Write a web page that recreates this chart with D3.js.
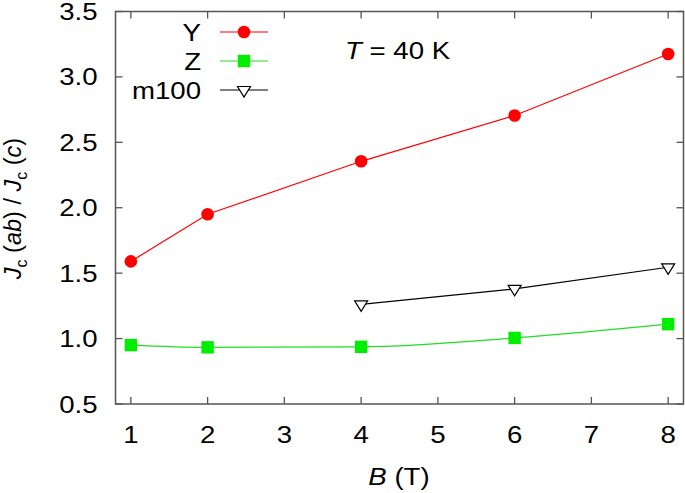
<!DOCTYPE html>
<html><head><meta charset="utf-8">
<script src="https://cdn.jsdelivr.net/npm/d3@7"></script>
<style>
html,body{margin:0;padding:0;background:#fff;}
text{font-family:"Liberation Sans",Arial,Helvetica,sans-serif;fill:#000;}
</style></head>
<body><svg id="c" width="685" height="493"></svg>
<script>
const xTicks = [1,2,3,4,5,6,7,8];
const yTicks = [0.5,1.0,1.5,2.0,2.5,3.0,3.5];
const bY = [1,2,4,6,8];
const valY = [1.59,1.95,2.355,2.705,3.175];
const bZ = [1,2,4,6,8];
const valZ = [0.95,0.933,0.937,1.005,1.11];
const bM = [4,6,8];
const valM = [1.262,1.38,1.545];
const legendLabels = ["Y","Z","m100"];

const svg = d3.select("#c");
const L=115.5,R=683.5,T=11.5,B=404;
const x = d3.scaleLinear().domain([0.8,8.2]).range([L,R]);
const y = d3.scaleLinear().domain([0.5,3.5]).range([B,T]);
const frameCol="#555";
const FS=24, SX=1.15;

function txt(px,py,anchor,size){
  return svg.append("text").attr("transform",`translate(${px},${py}) scale(${SX},1)`)
    .attr("text-anchor",anchor).attr("font-size",size||FS);
}

// ticks
const tl=7;
const g=svg.append("g").attr("stroke",frameCol).attr("stroke-width",1.3);
xTicks.forEach(v=>{
  g.append("line").attr("x1",x(v)).attr("x2",x(v)).attr("y1",B).attr("y2",B-tl);
  g.append("line").attr("x1",x(v)).attr("x2",x(v)).attr("y1",T).attr("y2",T+tl);
});
yTicks.forEach(v=>{
  g.append("line").attr("x1",L).attr("x2",L+tl).attr("y1",y(v)).attr("y2",y(v));
  g.append("line").attr("x1",R).attr("x2",R-tl).attr("y1",y(v)).attr("y2",y(v));
});
svg.append("rect").attr("x",L).attr("y",T).attr("width",R-L).attr("height",B-T)
  .attr("fill","none").attr("stroke",frameCol).attr("stroke-width",1.5);

// tick labels
xTicks.forEach(v=>{ txt(x(v),443,"middle").text(v); });
yTicks.forEach(v=>{ txt(97.5,y(v)+8.5,"end").text(v.toFixed(1)); });

// axis titles
const xl=txt(399,485,"middle");
xl.append("tspan").attr("font-style","italic").text("B");
xl.append("tspan").text(" (T)");

const yl=svg.append("text").attr("transform","translate(21,208.5) rotate(-90)").attr("text-anchor","middle").attr("font-size",23.5);
yl.append("tspan").attr("font-style","italic").text("J");
yl.append("tspan").attr("font-size",16).attr("dy",6).text("c");
yl.append("tspan").attr("dy",-6).text(" (");
yl.append("tspan").attr("font-style","italic").text("ab");
yl.append("tspan").text(") / ");
yl.append("tspan").attr("font-style","italic").text("J");
yl.append("tspan").attr("font-size",16).attr("dy",6).text("c");
yl.append("tspan").attr("dy",-6).text(" (");
yl.append("tspan").attr("font-style","italic").text("c");
yl.append("tspan").text(")");

const tt=txt(345,59,"start");
tt.append("tspan").attr("font-style","italic").text("T");
tt.append("tspan").text(" = 40 K");

// series
const red="#ff0000", green="#00ee00", greenLine="#22dd22";
const lineLin=d3.line().x(d=>x(d[0])).y(d=>y(d[1]));
const lineMono=d3.line().x(d=>x(d[0])).y(d=>y(d[1])).curve(d3.curveMonotoneX);

const dY=bY.map((b,i)=>[b,valY[i]]);
const dZ=bZ.map((b,i)=>[b,valZ[i]]);
const dM=bM.map((b,i)=>[b,valM[i]]);

svg.append("path").attr("d",lineLin(dY)).attr("fill","none").attr("stroke",red).attr("stroke-width",1.2);
svg.append("path").attr("d",lineMono(dZ)).attr("fill","none").attr("stroke",greenLine).attr("stroke-width",1.2);
svg.append("path").attr("d",lineLin(dM)).attr("fill","none").attr("stroke","#000").attr("stroke-width",1.2);

function circ(cx,cy){svg.append("circle").attr("cx",cx).attr("cy",cy).attr("r",6.3).attr("fill",red);}
function sq(cx,cy){svg.append("rect").attr("x",cx-6.2).attr("y",cy-6.2).attr("width",12.4).attr("height",12.4).attr("fill",green);}
function tri(cx,cy){svg.append("path").attr("d",`M${cx-6.5},${cy-3.5}L${cx+6.5},${cy-3.5}L${cx},${cy+7}Z`)
  .attr("fill","#fff").attr("stroke","#000").attr("stroke-width",1.2);}

dY.forEach(d=>circ(x(d[0]),y(d[1])));
dZ.forEach(d=>sq(x(d[0]),y(d[1])));
dM.forEach(d=>tri(x(d[0]),y(d[1])));

// legend
const ly=[32,61,90], cols=[red,greenLine,"#000"];
legendLabels.forEach((lab,i)=>{
  txt(201,ly[i]+8.5,"end").text(lab);
  svg.append("line").attr("x1",220).attr("x2",268).attr("y1",ly[i]).attr("y2",ly[i]).attr("stroke",cols[i]).attr("stroke-width",1.2);
});
circ(244,ly[0]); sq(244,ly[1]); tri(244,ly[2]);
</script></body></html>
